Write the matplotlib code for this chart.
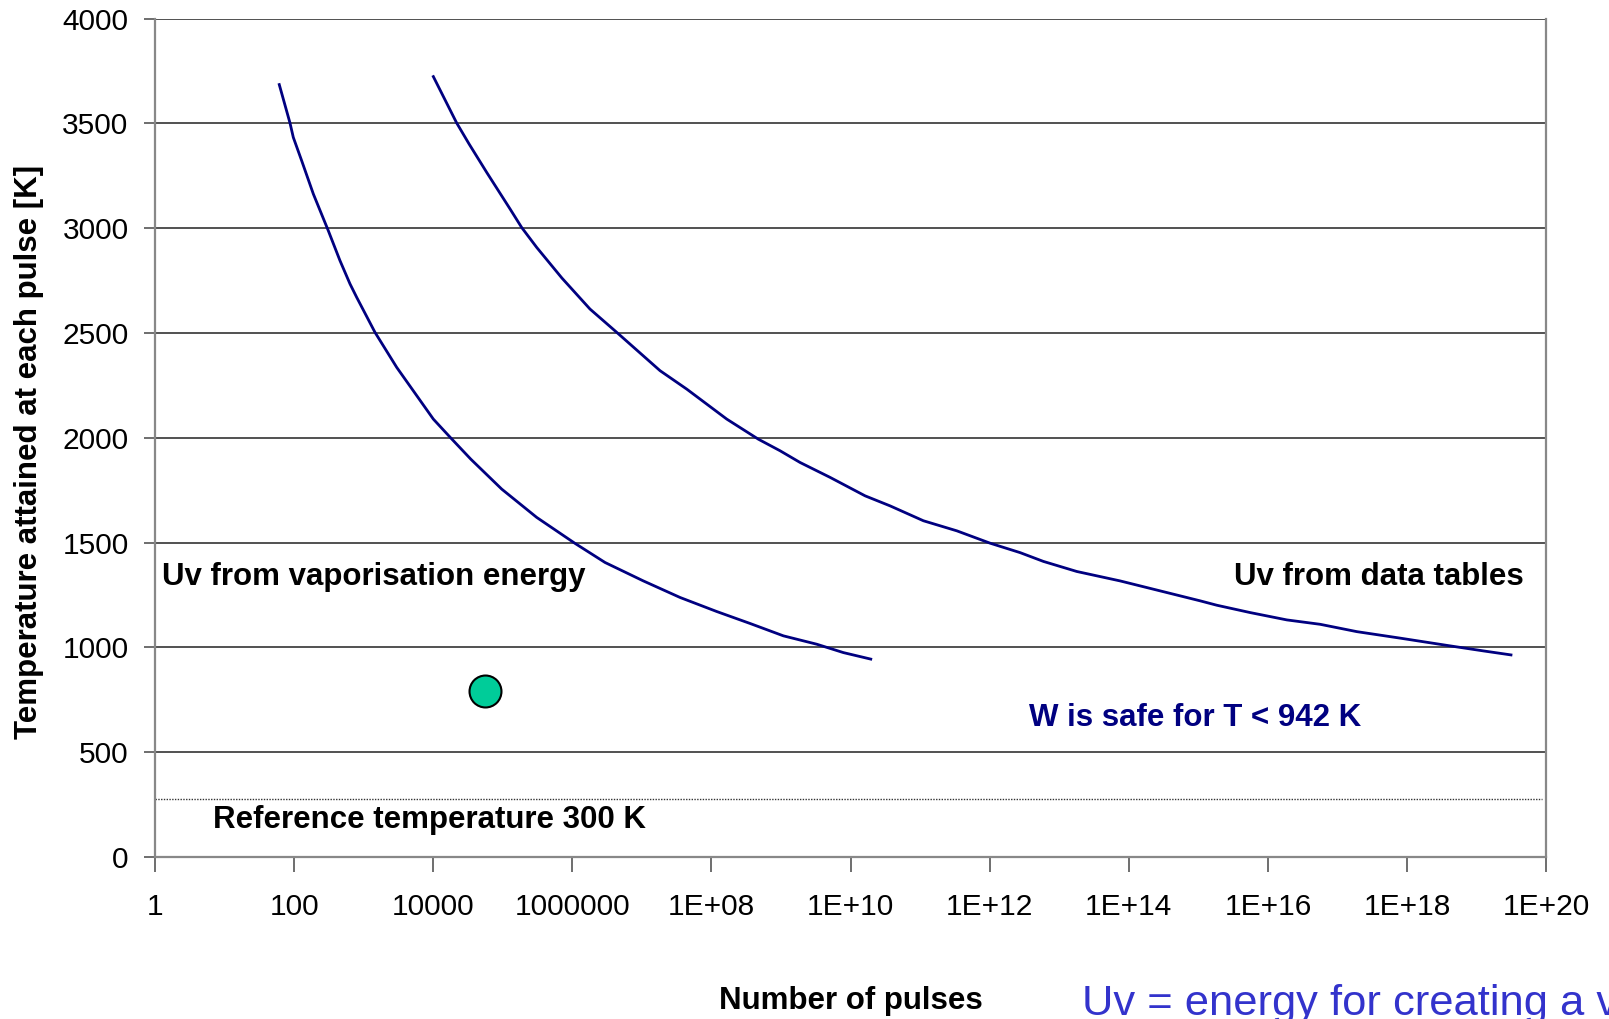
import matplotlib
matplotlib.use("Agg")
import numpy as np
import matplotlib.pyplot as plt
from matplotlib.ticker import FixedLocator, NullLocator

plt.rcParams["font.family"] = ["Liberation Sans", "DejaVu Sans"]

# ==================== data ====================

# Uv from vaporisation energy  (log10 of number of pulses, temperature K)
vap_log_pulses = [1.787, 1.941, 1.989, 2.109, 2.277, 2.492, 2.660, 2.804,
                  2.900, 3.163, 3.475, 3.714, 4.002, 4.25, 4.54, 4.985,
                  5.488, 6.039, 6.470, 7.021, 7.549, 8.076, 8.555, 9.034,
                  9.514, 9.897, 10.29]
vap_temp = [3685, 3502, 3433, 3322, 3163, 2988, 2845, 2734,
            2670, 2503, 2336, 2224, 2089, 2000, 1898, 1755,
            1620, 1496, 1405, 1317, 1238, 1171, 1114, 1055,
            1015, 975, 944]

# Uv from data tables
tab_log_pulses = [4.002, 4.337, 4.515, 4.769, 5.104, 5.272, 5.488,
                  5.85, 6.254, 6.638, 7.261, 7.645, 8.220,
                  8.675, 8.986, 9.274, 9.705, 10.208, 10.568, 11.047, 11.527,
                  12.006, 12.437, 12.772, 13.252, 13.875, 15.025, 15.265,
                  15.744, 16.271, 16.751, 17.278, 17.901, 18.620, 19.099,
                  19.493]
tab_temp = [3723, 3502, 3402, 3266, 3092, 3003, 2908,
            2762, 2614, 2503, 2320, 2232, 2089,
            1993, 1938, 1882, 1811, 1723, 1675, 1604, 1556,
            1497, 1452, 1410, 1362, 1317, 1222, 1201,
            1166, 1131, 1110, 1075, 1044, 1007, 983,
            964]

# single point
point_pulses = [5.6e4]
point_temp = [790]

ref_temp = 275

x_ticks = [1e0, 1e2, 1e4, 1e6, 1e8, 1e10, 1e12, 1e14, 1e16, 1e18, 1e20]
x_labels = ["1", "100", "10000", "1000000", "1E+08", "1E+10", "1E+12",
            "1E+14", "1E+16", "1E+18", "1E+20"]
y_ticks = [0, 500, 1000, 1500, 2000, 2500, 3000, 3500, 4000]

# ==================== plot ====================

fig = plt.figure(figsize=(16.09, 10.19), dpi=100)
ax = fig.add_axes([0.0963, 0.159, 0.8647, 0.8228])

for t in y_ticks[1:]:
    ax.axhline(t, color="#222222", linewidth=1.1, zorder=1)
ax.axhline(ref_temp, xmin=0, xmax=0.997, color="#333333",
           linewidth=1.0, linestyle=(0, (1, 1)), zorder=1)

ax.plot(10 ** np.array(vap_log_pulses), vap_temp, color="#000080",
        linewidth=2.0, zorder=3)
ax.plot(10 ** np.array(tab_log_pulses), tab_temp, color="#000080",
        linewidth=2.0, zorder=3)
ax.plot(point_pulses, point_temp, "o", markersize=23, markerfacecolor="#00CC99",
        markeredgecolor="black", markeredgewidth=1.5, zorder=4)

ax.set_xscale("log")
ax.set_xlim(1, 1e20)
ax.set_ylim(0, 4000)
ax.xaxis.set_major_locator(FixedLocator(x_ticks))
ax.xaxis.set_minor_locator(NullLocator())
ax.set_xticklabels(x_labels)
ax.set_yticks(y_ticks)

ax.tick_params(axis="x", labelsize=21.5, length=11, width=1.2,
               color="#555555", pad=15, direction="out")
ax.tick_params(axis="y", labelsize=21.5, length=8, width=1.2,
               color="#555555", pad=11, direction="out")

for s in ["left", "bottom", "right"]:
    ax.spines[s].set_color("#888888")
    ax.spines[s].set_linewidth(1.6)
ax.spines["top"].set_visible(False)

ax.set_ylabel("Temperature attained at each pulse [K]", fontsize=22.5,
              fontweight="bold", va="center")
ax.yaxis.set_label_coords(-0.0906, 0.4836)

ax.text(10**0.10, 1337, "Uv from vaporisation energy", fontsize=22.5,
        fontweight="bold", ha="left", va="center")
ax.text(10**19.68, 1337, "Uv from data tables", fontsize=22.5,
        fontweight="bold", ha="right", va="center")
ax.text(10**12.57, 661, "W is safe for T < 942 K", fontsize=22.5,
        fontweight="bold", color="#000080", ha="left", va="center")
ax.text(10**0.83, 176, "Reference temperature 300 K", fontsize=22.5,
        fontweight="bold", ha="left", va="center")

fig.text(851 / 1609, 1 - 1001 / 1019, "Number of pulses", fontsize=22.5,
         fontweight="bold", ha="center", va="center")
fig.text(1082 / 1609, 1 - 1015 / 1019, "Uv = energy for creating a vacancy",
         fontsize=31.3, color="#3333CC", ha="left", va="baseline")

fig.savefig("out.png", dpi=100)
